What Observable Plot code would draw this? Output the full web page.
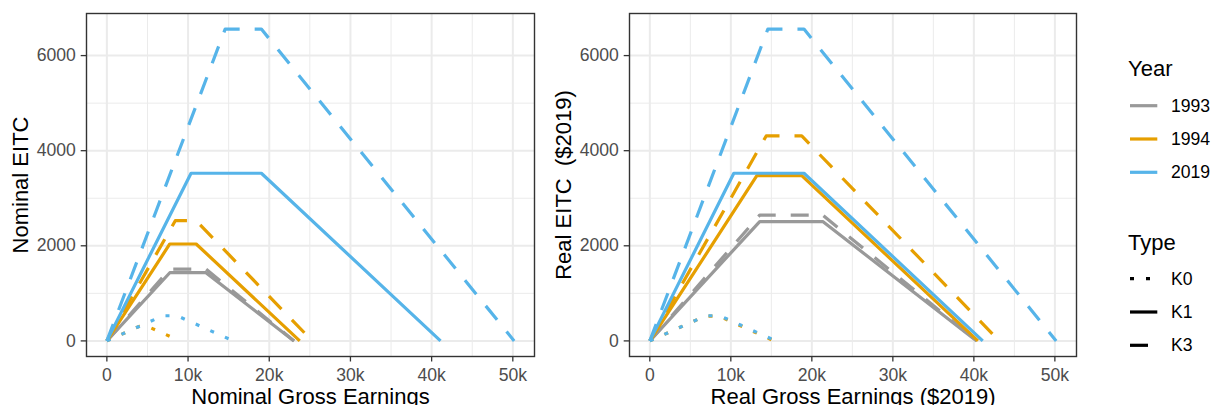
<!DOCTYPE html>
<html>
<head>
<meta charset="utf-8">
<script src="https://cdn.jsdelivr.net/npm/d3@7"></script>
<script src="https://cdn.jsdelivr.net/npm/@observablehq/plot@0.6"></script>
<style>
  html, body { margin: 0; padding: 0; background: #fff; }
  #wrap { position: relative; width: 1212px; height: 405px; overflow: hidden; font-family: "Liberation Sans", Arial, sans-serif; }
  #wrap svg { position: absolute; top: 0; display: block; overflow: visible; }
</style>
</head>
<body>
<div id="wrap"></div>
<script>
// ---- data ----
const years = [1993, 1994, 2019];
const yearColors = ["#999999", "#E69F00", "#56B4E9"];
const types = ["K0", "K1", "K3"];
const typeDash = ["4,12", null, "18,15"];

const seriesYear = [1993, 1993, 1994, 1994, 1994, 2019, 2019, 2019];
const seriesType = ["K1", "K3", "K0", "K1", "K3", "K0", "K1", "K3"];

// nominal schedule knots (earnings, credit)
const nominalEarnings = [
  [0, 7750, 12200, 23050],
  [0, 7750, 12200, 23050],
  [0, 4000, 5000, 9000],
  [0, 7750, 11000, 23755],
  [0, 8425, 11000, 25296],
  [0, 6920, 8650, 15570],
  [0, 10370, 19030, 41094],
  [0, 14570, 19030, 50162]
];
const nominalCredit = [
  [0, 1434, 1434, 0],
  [0, 1511, 1511, 0],
  [0, 306, 306, 0],
  [0, 2038, 2038, 0],
  [0, 2528, 2528, 0],
  [0, 529, 529, 0],
  [0, 3526, 3526, 0],
  [0, 6557, 6557, 0]
];
// real ($2019) schedule knots
const realEarnings = [
  [0, 13563, 21350, 40338],
  [0, 13563, 21350, 40338],
  [0, 6820, 8525, 15345],
  [0, 13214, 18755, 40502],
  [0, 14365, 18755, 43130],
  [0, 6920, 8650, 15570],
  [0, 10370, 19030, 41094],
  [0, 14570, 19030, 50162]
];
const realCredit = [
  [0, 2510, 2510, 0],
  [0, 2644, 2644, 0],
  [0, 522, 522, 0],
  [0, 3475, 3475, 0],
  [0, 4310, 4310, 0],
  [0, 529, 529, 0],
  [0, 3526, 3526, 0],
  [0, 6557, 6557, 0]
];

const xTicks = [0, 10000, 20000, 30000, 40000, 50000];
const xMinor = [5000, 15000, 25000, 35000, 45000];
const yTicks = [0, 2000, 4000, 6000];
const yMinor = [1000, 3000, 5000];
const xDomain = [-2508, 52670];
const yDomain = [-328, 6885];

const FONT = '"Liberation Sans", Arial, sans-serif';
const LW = 3.2;

function panel(earn, credit, xTitle, yTitle, width, mLeft, mRight) {
  const lineMarks = [];
  for (let i = 0; i < seriesYear.length; i++) {
    const pts = earn[i].map((e, j) => ({x: e, y: credit[i][j]}));
    const ti = types.indexOf(seriesType[i]);
    lineMarks.push(Plot.line(pts, {
      x: "x", y: "y",
      stroke: yearColors[years.indexOf(seriesYear[i])],
      strokeWidth: LW,
      strokeDasharray: typeDash[ti],
      strokeLinecap: "butt",
      strokeLinejoin: "round"
    }));
  }
  return Plot.plot({
    width, height: 405,
    marginLeft: mLeft, marginRight: mRight, marginTop: 13, marginBottom: 49,
    style: {fontFamily: FONT, fontSize: "17.6px", background: "white", overflow: "visible"},
    x: {domain: xDomain},
    y: {domain: yDomain},
    marks: [
      Plot.gridX({ticks: xMinor, stroke: "#EBEBEB", strokeOpacity: 1, strokeWidth: 1}),
      Plot.gridY({ticks: yMinor, stroke: "#EBEBEB", strokeOpacity: 1, strokeWidth: 1}),
      Plot.gridX({ticks: xTicks, stroke: "#EBEBEB", strokeOpacity: 1, strokeWidth: 2}),
      Plot.gridY({ticks: yTicks, stroke: "#EBEBEB", strokeOpacity: 1, strokeWidth: 2}),
      ...lineMarks,
      Plot.frame({stroke: "#333333", strokeWidth: 1.4}),
      Plot.axisX({ticks: xTicks, tickFormat: d => d === 0 ? "0" : (d / 1000) + "k",
        tickSize: 5.5, tickPadding: 6, fontSize: 17.6, fill: "#4D4D4D", stroke: "#333333",
        strokeWidth: 1.3, label: null}),
      Plot.axisY({ticks: yTicks, tickFormat: d => String(d),
        tickSize: 5.3, tickPadding: 5.4, fontSize: 17.6, fill: "#4D4D4D", stroke: "#333333",
        strokeWidth: 1.3, label: null}),
      Plot.text([xTitle], {frameAnchor: "bottom", lineAnchor: "bottom", textAnchor: "middle", dy: 47,
        fontSize: 22, fill: "black", text: d => d}),
      Plot.text([yTitle], {frameAnchor: "left", lineAnchor: "bottom", textAnchor: "middle", dx: -59, rotate: -90,
        fontSize: 22, fill: "black", text: d => d})
    ]
  });
}

const wrap = document.getElementById("wrap");
const left = panel(nominalEarnings, nominalCredit, "Nominal Gross Earnings", "Nominal EITC", 560, 86, 26);
left.style.left = "0px";
wrap.appendChild(left);
const right = panel(realEarnings, realCredit, "Real Gross Earnings ($2019)", "Real EITC\u00a0 ($2019)", 540, 69, 24);
right.style.left = "560px";
wrap.appendChild(right);

// ---- legend ----
const leg = d3.create("svg").attr("width", 112).attr("height", 405)
  .style("left", "1100px").style("font-family", FONT);
leg.append("text").attr("x", 28).attr("y", 76).attr("font-size", 22).text("Year");
const yearY = [105.7, 139, 172.3];
years.forEach((yr, i) => {
  leg.append("line").attr("x1", 30).attr("x2", 57.3).attr("y1", yearY[i]).attr("y2", yearY[i])
    .attr("stroke", yearColors[i]).attr("stroke-width", LW);
  leg.append("text").attr("x", 71).attr("y", yearY[i]).attr("dy", "0.35em")
    .attr("font-size", 17.6).text(String(yr));
});
leg.append("text").attr("x", 28).attr("y", 250).attr("font-size", 22).text("Type");
const typeY = [278.7, 312, 345.3];
types.forEach((t, i) => {
  const l = leg.append("line").attr("x1", 30).attr("x2", 57.3).attr("y1", typeY[i]).attr("y2", typeY[i])
    .attr("stroke", "black").attr("stroke-width", LW).attr("stroke-linecap", "butt");
  if (typeDash[i]) l.attr("stroke-dasharray", typeDash[i]);
  leg.append("text").attr("x", 71).attr("y", typeY[i]).attr("dy", "0.35em")
    .attr("font-size", 17.6).text(t);
});
wrap.appendChild(leg.node());
</script>
</body>
</html>
